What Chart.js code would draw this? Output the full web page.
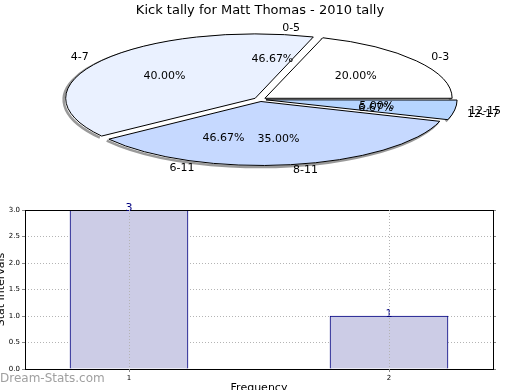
<!DOCTYPE html>
<html>
<head>
<meta charset="utf-8">
<script src="https://cdn.jsdelivr.net/npm/chart.js@4.4.0/dist/chart.umd.min.js"></script>
<style>
  html, body { margin: 0; padding: 0; width: 520px; height: 390px; overflow: hidden; background: #fff; }
  canvas { position: absolute; }
  #pieA, #pieB { left: 0; top: 0; }
  #bars { left: -5px; top: 195px; }
  #mark { position: absolute; left: 0; top: 371px; font: 12px "DejaVu Sans"; line-height: 14px; color: #a0a0a0; }
</style>
</head>
<body>
<canvas id="bars" width="525" height="200"></canvas>
<canvas id="pieA" width="520" height="390"></canvas>
<canvas id="pieB" width="520" height="390"></canvas>
<div id="mark">Dream-Stats.com</div>
<script>
const chartTitle = 'Kick tally for Matt Thomas - 2010 tally';

// first pie (drawn)
const rangesA = ['0-3', '4-7', '8-11', '12-15'];
const countsA = [4, 8, 7, 1];
const colorsA = ['#ffffff', '#eaf1ff', '#c6d9ff', '#b6d5ff'];

// second pie (only its labels show)
const rangesB = ['0-5', '6-11', '12-17'];
const countsB = [7, 7, 1];

// bar chart
const freqValues = [1, 2];
const freqCounts = [3, 1];
const yTicks = [0, 0.5, 1, 1.5, 2, 2.5, 3];

const PIE_CY = 99.5;   // screen y of pie centre
const PIE_K = 0.34;    // vertical squash
const PIE_R = 187;
const PIE_OFF = 24;

const FONT = 'DejaVu Sans';

function squish(ctx, cy) {
  ctx.translate(0, PIE_CY);
  ctx.scale(1, -PIE_K);
  ctx.translate(0, -cy);
}

// squash the round pie into an ellipse, keep 1px outlines, then put labels on
const squashPlugin = {
  id: 'squash',
  beforeDatasetsDraw(chart, args, opts) {
    const ctx = chart.ctx;
    const arcs = chart.getDatasetMeta(0).data;
    const cy = arcs[0].y;
    if (opts.shadow) {
      ctx.save();
      ctx.translate(-2, 1.5);
      squish(ctx, cy);
      ctx.beginPath();
      arcs.forEach(a => {
        const mid = (a.startAngle + a.endAngle) / 2;
        const t = a.options.offset / 4;
        const fix = 1 - Math.sin(Math.min(Math.PI, a.circumference));
        const r = a.outerRadius + t * fix;
        const x0 = a.x + Math.cos(mid) * t, y0 = a.y + Math.sin(mid) * t;
        ctx.moveTo(x0 + Math.cos(a.startAngle) * r, y0 + Math.sin(a.startAngle) * r);
        ctx.arc(x0, y0, r, a.startAngle, a.endAngle);
      });
      ctx.restore();
      ctx.save();
      ctx.strokeStyle = '#9a9a9a';
      ctx.lineWidth = 2.5;
      ctx.stroke();
      ctx.restore();
    }
    ctx.save();
    squish(ctx, cy);
    ctx.stroke = function () {
      this.save();
      this.setTransform(1, 0, 0, 1, 0, 0);
      CanvasRenderingContext2D.prototype.stroke.call(this);
      this.restore();
    };
  },
  afterDatasetsDraw(chart) {
    const ctx = chart.ctx;
    delete ctx.stroke;
    ctx.restore();

    const labels = chart.data.labels;
    const values = chart.data.datasets[0].data;
    const total = values.reduce((s, v) => s + v, 0);
    ctx.save();
    ctx.fillStyle = '#000';
    ctx.font = '11px "' + FONT + '"';
    ctx.textBaseline = 'middle';
    chart.getDatasetMeta(0).data.forEach((a, i) => {
      const mid = (a.startAngle + a.endAngle) / 2;
      const c = Math.cos(mid), s = Math.sin(mid);
      const t = a.options.offset / 4;
      const ox = a.x + c * t, oy = PIE_CY - PIE_K * s * t;
      const r = a.outerRadius;
      ctx.textAlign = c >= 0 ? 'left' : 'right';
      ctx.fillText(labels[i], ox + c * r * 1.1, oy - PIE_K * s * r * 1.1);
      ctx.textAlign = 'center';
      ctx.fillText((values[i] / total * 100).toFixed(2) + '%', ox + c * r * 0.6, oy - PIE_K * s * r * 0.6);
    });
    ctx.restore();
  }
};

function pieOptions(showTitle, shadow) {
  return {
    responsive: false,
    animation: false,
    events: [],
    devicePixelRatio: 1,
    radius: PIE_R,
    rotation: 90,
    plugins: {
      legend: { display: false },
      tooltip: { enabled: false },
      squash: { shadow: shadow },
      title: {
        display: showTitle,
        text: chartTitle,
        color: '#000',
        font: { family: FONT, size: 13, weight: 'normal' },
        padding: { top: 3, bottom: 0 }
      }
    }
  };
}

new Chart(document.getElementById('pieA'), {
  type: 'pie',
  data: {
    labels: rangesA,
    datasets: [{
      data: countsA,
      backgroundColor: colorsA,
      borderColor: '#000',
      borderWidth: 1,
      offset: PIE_OFF,
      clip: false
    }]
  },
  options: pieOptions(true, true),
  plugins: [squashPlugin]
});

new Chart(document.getElementById('pieB'), {
  type: 'pie',
  data: {
    labels: rangesB,
    datasets: [{
      data: countsB,
      backgroundColor: 'rgba(0,0,0,0)',
      borderWidth: 0,
      offset: PIE_OFF,
      clip: false
    }]
  },
  options: pieOptions(false, false),
  plugins: [squashPlugin]
});

// frame around the plot and the count over each bar
const barExtras = {
  id: 'barExtras',
  afterDatasetsDraw(chart) {
    const { ctx, chartArea: a } = chart;
    ctx.save();
    ctx.strokeStyle = '#000';
    ctx.lineWidth = 1;
    const l = Math.round(a.left) + 0.5, t = Math.round(a.top) + 0.5;
    ctx.strokeRect(l, t, Math.round(a.right) - Math.round(a.left), Math.round(a.bottom) - Math.round(a.top));
    ctx.fillStyle = '#000080';
    ctx.font = '11px "' + FONT + '"';
    ctx.textAlign = 'center';
    ctx.textBaseline = 'alphabetic';
    chart.getDatasetMeta(0).data.forEach((bar, i) => {
      ctx.fillText(String(freqCounts[i]), bar.x, bar.y + 1);
    });
    ctx.restore();
  }
};

const tickFont = { family: FONT, size: 7 };
const gridStyle = { color: '#b4b4b4', tickLength: 3, tickColor: '#888', tickBorderDash: [], offset: false };

new Chart(document.getElementById('bars'), {
  type: 'bar',
  data: {
    datasets: [{
      data: freqValues.map((v, i) => ({ x: v, y: freqCounts[i] })),
      backgroundColor: '#ccccE6',
      borderColor: '#000080',
      borderWidth: 1,
      borderSkipped: 'start',
      barThickness: 118
    }]
  },
  options: {
    responsive: false,
    animation: false,
    events: [],
    devicePixelRatio: 1,
    layout: { padding: { top: 15, right: 23, bottom: 0, left: 0 } },
    plugins: { legend: { display: false }, tooltip: { enabled: false } },
    scales: {
      x: {
        type: 'linear',
        offset: false,
        min: 0.6,
        max: 2.4,
        afterBuildTicks: s => { s.ticks = freqValues.map(v => ({ value: v })); },
        afterFit: s => { s.height = 26; },
        ticks: { font: tickFont, color: '#000', padding: 2, maxRotation: 0 },
        grid: Object.assign({ z: 1 }, gridStyle),
        border: { display: false, dash: [1, 2] },
        title: { display: true, text: 'Frequency', color: '#000', font: { family: FONT, size: 11 }, padding: 0 }
      },
      y: {
        min: 0,
        max: 3,
        afterBuildTicks: s => { s.ticks = yTicks.map(v => ({ value: v })); },
        afterFit: s => { s.width = 30; },
        ticks: { font: tickFont, color: '#000', padding: 2, callback: v => v.toFixed(1) },
        grid: gridStyle,
        border: { display: false, dash: [1, 2] },
        title: { display: true, text: 'Stat Intervals', color: '#000', font: { family: FONT, size: 11 }, padding: 0 }
      },
      y2: {
        position: 'right',
        min: 0,
        max: 3,
        afterBuildTicks: s => { s.ticks = yTicks.map(v => ({ value: v })); },
        afterFit: s => { s.width = 4; },
        ticks: { display: false },
        grid: { drawOnChartArea: false, tickLength: 3, tickColor: '#888' },
        border: { display: false }
      }
    }
  },
  plugins: [barExtras]
});
</script>
</body>
</html>
